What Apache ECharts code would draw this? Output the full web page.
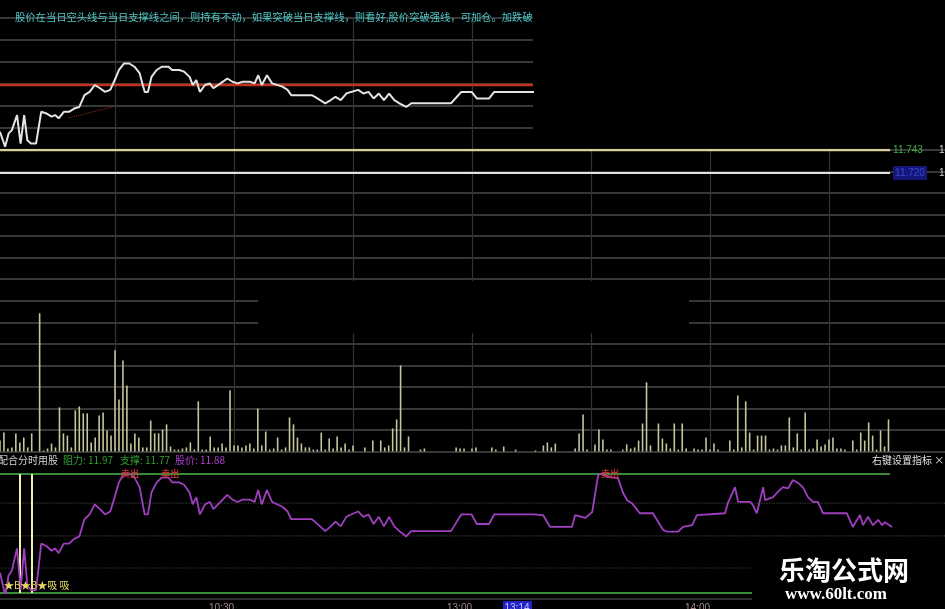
<!DOCTYPE html>
<html><head><meta charset="utf-8">
<script src="https://cdn.jsdelivr.net/npm/echarts@6/dist/echarts.min.js"></script>
<style>html,body{margin:0;padding:0;background:#000;}#c{width:945px;height:609px;}</style>
</head><body><div id="c"></div>
<script>
// trading minutes since 9:30 (lunch removed) and price
const priceTime=[1.0,2.3,3.2,4.0,5.3,6.2,7.1,7.9,8.8,10.1,11.4,12.7,14.0,14.9,15.8,17.1,18.4,19.7,21.0,22.3,23.6,24.9,26.2,27.5,28.8,30.1,31.0,32.3,33.6,34.9,36.2,37.0,37.5,38.3,39.2,40.5,41.8,43.5,44.4,46.2,47.4,48.8,49.6,50.5,51.4,52.7,53.9,54.8,56.6,58.3,59.6,60.9,62.2,64.0,65.2,66.1,67.0,68.3,69.6,72.2,73.5,74.4,79.6,80.4,81.7,83.0,84.4,85.6,86.9,88.3,89.5,91.3,92.6,93.9,95.2,96.5,97.8,99.1,100.4,101.7,103.4,104.7,114.7,117.3,119.9,121.2,124.3,125.6,135.4,137.9,139.7,145.2,146.0,147.7,148.5,150.3,151.8,152.8,154.0,156.8,158.1,159.1,160.3,162.3,165.6,168.2,169.2,171.9,173.2,175.5,176.7,183.8,184.5,186.3,187.1,190.1,190.8,191.8,193.4,193.9,195.9,197.1,198.4,199.7,200.9,202.2,203.4,204.7,206.0,207.2,208.5,214.5,216.0,217.8,218.6,219.8,221.1,222.4,223.4,224.1,225.9];
const priceValue=[11.804,11.767,11.800,11.808,11.845,11.775,11.845,11.783,11.775,11.775,11.853,11.849,11.841,11.845,11.837,11.853,11.853,11.861,11.865,11.894,11.902,11.919,11.911,11.902,11.907,11.935,11.956,11.972,11.972,11.964,11.948,11.919,11.902,11.902,11.939,11.956,11.964,11.964,11.956,11.956,11.952,11.939,11.919,11.931,11.902,11.919,11.923,11.911,11.923,11.935,11.927,11.923,11.927,11.927,11.923,11.943,11.919,11.943,11.923,11.915,11.907,11.894,11.894,11.890,11.882,11.874,11.882,11.890,11.882,11.898,11.902,11.907,11.898,11.902,11.886,11.898,11.882,11.898,11.882,11.874,11.865,11.874,11.874,11.902,11.902,11.886,11.886,11.902,11.902,11.901,11.881,11.881,11.901,11.898,11.896,11.906,11.968,11.972,11.965,11.963,11.938,11.926,11.921,11.904,11.904,11.876,11.873,11.873,11.881,11.884,11.901,11.904,11.921,11.948,11.923,11.923,11.918,11.904,11.948,11.926,11.931,11.940,11.948,11.946,11.960,11.955,11.948,11.931,11.923,11.923,11.904,11.904,11.881,11.901,11.884,11.898,11.884,11.893,11.884,11.889,11.881];
// [minute, volume]
const volume=[[1,51],[2,88],[3,14],[4,19],[5,84],[6,42],[7,65],[8,19],[9,84],[11,642],[12,5],[13,14],[14,37],[15,19],[16,205],[17,84],[18,74],[19,19],[20,191],[21,209],[22,177],[23,177],[24,42],[25,65],[26,167],[27,181],[28,98],[29,74],[30,470],[31,242],[32,423],[33,307],[34,37],[35,84],[36,65],[37,19],[38,19],[39,144],[40,84],[41,84],[42,102],[43,126],[44,23],[45,9],[46,9],[47,14],[48,19],[49,42],[50,9],[51,233],[52,9],[53,9],[54,70],[55,19],[56,19],[57,37],[58,19],[59,284],[60,28],[61,28],[62,19],[63,28],[64,37],[65,14],[66,200],[67,28],[68,93],[69,9],[70,14],[71,65],[72,9],[73,19],[74,158],[75,126],[76,65],[77,37],[78,19],[79,19],[80,9],[81,9],[82,88],[83,9],[84,60],[85,14],[86,70],[87,19],[88,37],[89,9],[90,28],[93,19],[95,51],[97,51],[98,19],[99,28],[100,107],[101,149],[102,400],[103,19],[104,70],[107,9],[108,14],[116,19],[117,14],[118,14],[120,14],[121,19],[125,19],[126,9],[128,23],[131,9],[136,5],[138,28],[139,42],[140,19],[141,37],[146,14],[147,84],[148,172],[149,9],[151,33],[152,102],[153,56],[154,9],[155,9],[158,9],[159,33],[160,14],[161,19],[162,51],[163,130],[164,321],[165,28],[167,130],[168,60],[169,37],[170,14],[171,130],[172,9],[173,130],[174,14],[176,14],[177,9],[178,9],[179,65],[180,9],[181,37],[182,9],[185,51],[186,9],[187,260],[188,19],[189,233],[190,88],[191,9],[192,74],[193,74],[194,74],[195,9],[196,14],[197,9],[198,28],[199,28],[200,158],[201,19],[202,84],[203,9],[204,181],[205,9],[206,14],[207,56],[208,23],[209,33],[210,56],[211,65],[212,14],[213,14],[214,9],[216,51],[217,9],[218,88],[219,51],[220,135],[221,74],[222,9],[223,98],[224,23],[225,149]];
const resistance=11.97, support=11.77, lastPrice=11.88;
const bearLine=11.919;
const avgLine=[[18.4,11.838],[24.0,11.852],[29.7,11.866]];
const yellowRef=11.743, whiteRef=11.720;
const bottomGuides=[11.921,11.866,11.812];
const buySignals=[6.0,9.1];
const sellSignals=[[33.8,11.970],[43.9,11.970],[154.8,11.970]];
const lastMinute=225.4;
const timeTicks=[60,120,180];
const hintText='股价在当日空头线与当日支撑线之间，则持有不动，如果突破当日支撑线，则看好,股价突破强线，可加仓。加跌破';

const price=priceTime.map((t,i)=>[t,priceValue[i]]);
function fmtTime(m){let base=m<120?9*60+30+m:13*60+(m-120);const h=Math.floor(base/60),mm=base%60;return h+':'+(mm<10?'0':'')+mm;}
const CJK='"Noto Sans CJK SC", sans-serif';
const hGrid={show:true,lineStyle:{color:'#4a4a4a',width:1.5}};
const vGrid={show:true,showMinLine:false,showMaxLine:false,lineStyle:{color:'#333',width:1.2}};
const hidden={axisLine:{show:false},axisTick:{show:false},axisLabel:{show:false}};
function hline(xi,yi,v,x0,x1,style,extra){return Object.assign({type:'line',xAxisIndex:xi,yAxisIndex:yi,data:[[x0,v],[x1,v]],symbol:'none',silent:true,lineStyle:style},extra||{});}

const chart=echarts.init(document.getElementById('c'));
chart.setOption({
  backgroundColor:'#000',animation:false,
  grid:[
    {left:-4,top:18,width:537,height:132,outerBoundsMode:'none'},
    {left:-4,top:150,width:952,height:301.5,outerBoundsMode:'none'},
    {left:-4,top:474,width:952,height:119,outerBoundsMode:'none'}
  ],
  xAxis:[
    Object.assign({type:'value',gridIndex:0,min:0,max:537/3.967,interval:30,splitLine:vGrid},hidden),
    Object.assign({type:'value',gridIndex:1,min:0,max:240,interval:30,splitLine:vGrid},hidden),
    {type:'value',gridIndex:2,min:0,max:240,interval:30,splitLine:{show:false},offset:6,
     axisLine:{show:true,lineStyle:{color:'#3c3c3c',width:1.5}},axisTick:{show:false},
     axisLabel:{show:true,margin:4,align:'right',color:'#a08888',fontSize:10,fontFamily:'Liberation Sans',
       formatter:v=>timeTicks.includes(v)?fmtTime(v):''}}
  ],
  yAxis:[
    Object.assign({type:'value',gridIndex:0,min:0,max:6,interval:1,splitLine:hGrid},hidden),
    Object.assign({type:'value',gridIndex:0,min:11.759,max:12.084,splitLine:{show:false}},hidden),
    Object.assign({type:'value',gridIndex:1,min:0,max:1400,interval:100,splitLine:hGrid},hidden),
    Object.assign({type:'value',gridIndex:1,min:11.443,max:11.743,splitLine:{show:false},position:'right'},hidden),
    Object.assign({type:'value',gridIndex:2,min:11.77,max:11.97,splitLine:{show:false}},hidden)
  ],
  series:[
    hline(0,1,bearLine,0,537/3.967,{color:'#c4301e',width:2.5},{z:3}),
    {type:'line',xAxisIndex:0,yAxisIndex:1,data:avgLine,symbol:'none',lineStyle:{color:'#7a2a1c',width:1.2,type:'dotted'},z:3},
    {type:'line',xAxisIndex:0,yAxisIndex:1,data:price,symbol:'none',lineStyle:{color:'#e4e4e4',width:2},z:5},
    {type:'bar',xAxisIndex:1,yAxisIndex:2,data:volume,barWidth:1.6,itemStyle:{color:'#c6c69c'},z:3},
    {type:'line',xAxisIndex:1,yAxisIndex:3,silent:true,showSymbol:true,symbolSize:0,
     data:[[0,yellowRef],{value:[lastMinute,yellowRef],label:{show:true,position:'right',distance:3,formatter:yellowRef.toFixed(3),color:'#3fae3f',fontSize:10,fontFamily:'Liberation Sans'}}],
     lineStyle:{color:'#d6cf9c',width:2.5},z:6},
    {type:'line',xAxisIndex:1,yAxisIndex:3,silent:true,showSymbol:true,symbolSize:0,
     data:[[0,whiteRef],{value:[lastMinute,whiteRef],label:{show:true,position:'right',distance:3,formatter:whiteRef.toFixed(3),color:'#3848c8',backgroundColor:'#16167a',padding:[2,2],fontSize:10,fontFamily:'Liberation Sans'}}],
     lineStyle:{color:'#e0e0e0',width:2},z:6},
    ...bottomGuides.map(g=>hline(2,4,g,0,240,{color:'#3a3a3a',width:1.2,type:'dotted'},{z:1})),
    hline(2,4,resistance,0,lastMinute,{color:'#3a8a3a',width:2},{z:2}),
    hline(2,4,support,0,lastMinute,{color:'#3a8a3a',width:2},{z:2}),
    {type:'line',xAxisIndex:2,yAxisIndex:4,data:price,symbol:'none',lineStyle:{color:'#a03fc0',width:1.8},z:5,
     markLine:{silent:true,symbol:'none',label:{show:false},lineStyle:{color:'#f2efa8',width:2,type:'solid'},
       data:buySignals.map(m=>({xAxis:m}))}},
    {type:'scatter',xAxisIndex:2,yAxisIndex:4,data:sellSignals,symbolSize:1,clip:false,silent:true,z:7,
     itemStyle:{color:'rgba(0,0,0,0)'},labelLayout:{hideOverlap:false},
     label:{show:true,position:'inside',formatter:'卖出',color:'#e03838',fontSize:9,fontWeight:'bold',fontFamily:CJK}}
  ],
  graphic:[
    {type:'text',x:15,y:17,z:100,style:{text:hintText,fill:'#4cc6c6',font:'10.3px '+CJK,textVerticalAlign:'middle'}},
    {type:'rect',z:100,shape:{x:258,y:281,width:431,height:52},style:{fill:'#000'}},
    {type:'text',x:939,y:150,z:100,style:{text:'1',fill:'#d0d0d0',font:'10px Liberation Sans',textVerticalAlign:'middle'}},
    {type:'text',x:939,y:173,z:100,style:{text:'1',fill:'#d0d0d0',font:'10px Liberation Sans',textVerticalAlign:'middle'}},
    {type:'text',x:-2,y:460,z:100,style:{text:'配合分时用股',fill:'#d0d0d0',font:'10px '+CJK,textVerticalAlign:'middle'}},
    {type:'text',x:63,y:460,z:100,style:{text:'阻力: '+resistance.toFixed(2),fill:'#2fa02f',font:'10px '+CJK,textVerticalAlign:'middle'}},
    {type:'text',x:120,y:460,z:100,style:{text:'支撑: '+support.toFixed(2),fill:'#2fa02f',font:'10px '+CJK,textVerticalAlign:'middle'}},
    {type:'text',x:175,y:460,z:100,style:{text:'股价: '+lastPrice.toFixed(2),fill:'#b040d0',font:'10px '+CJK,textVerticalAlign:'middle'}},
    {type:'text',x:872,y:460,z:100,style:{text:'右键设置指标 ×',fill:'#e0e0e0',font:'10px '+CJK,textVerticalAlign:'middle'}},
    {type:'text',x:4,y:585,z:100,style:{text:'★B★B★吸 吸',fill:'#e8d860',font:'10px '+CJK,textVerticalAlign:'middle'}},
    {type:'rect',z:100,shape:{x:503,y:601,width:29,height:12},style:{fill:'#2222c8'}},
    {type:'text',x:517,y:608,z:101,style:{text:'13:14',fill:'#c8c8ff',font:'10px Liberation Sans',textAlign:'center',textVerticalAlign:'middle'}},
    {type:'rect',z:100,shape:{x:752,y:553,width:193,height:56},style:{fill:'#000'}},
    {type:'text',x:779,y:557,z:101,style:{text:'乐淘公式网',fill:'#ffffff',font:'bold 26px '+CJK}},
    {type:'text',x:785,y:586,z:101,style:{text:'www.60lt.com',fill:'#ffffff',font:'bold 17px "Liberation Serif"'}}
  ]
});
</script></body></html>
